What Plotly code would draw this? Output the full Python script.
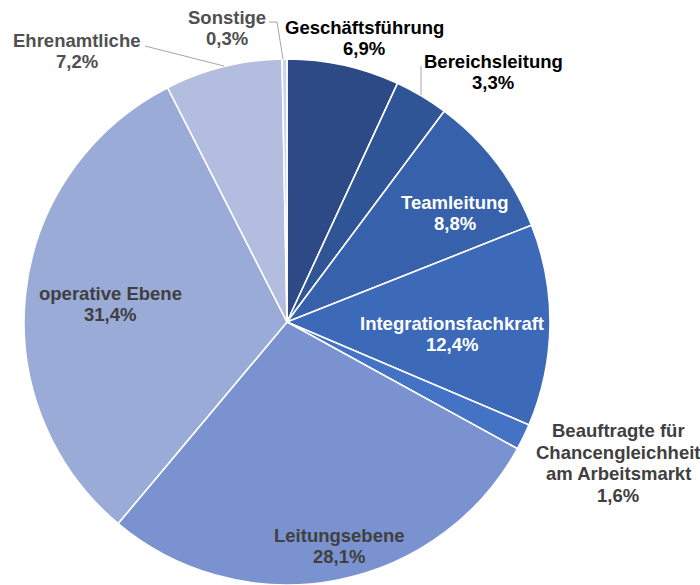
import plotly.graph_objects as go

# Staff groups and their shares (percent)
categories = [
    "Geschäftsführung",
    "Bereichsleitung",
    "Teamleitung",
    "Integrationsfachkraft",
    "Beauftragte für|Chancengleichheit|am Arbeitsmarkt",
    "Leitungsebene",
    "operative Ebene",
    "Ehrenamtliche",
    "Sonstige",
]
shares = [6.9, 3.3, 8.8, 12.4, 1.6, 28.1, 31.4, 7.2, 0.3]

slice_colors = [
    "#2D4A86", "#2F5597", "#3762AB", "#3D69B9", "#4472C4",
    "#7A92CF", "#9AABD7", "#B3BDDF", "#CDD3EA",
]
label_colors = [
    "#000000", "#000000", "#FFFFFF", "#FFFFFF", "#404040",
    "#404040", "#404040", "#505050", "#505050",
]
# label block centres in pixels (x, y) for a 700 x 585 canvas
label_pos = [
    (364, 38), (493, 72), (455, 213), (452, 334), (618, 463),
    (339, 546), (110, 304), (77, 51), (227, 28),
]

W, H = 700, 585
cx, cy, r = 287, 322, 263
LINE_GAP = 21.5
FONT_SIZE = 18.5

fig = go.Figure(go.Pie(
    labels=[c.replace("|", " ") for c in categories],
    values=shares,
    sort=False,
    direction="clockwise",
    rotation=0,
    marker=dict(colors=slice_colors, line=dict(color="white", width=1.6)),
    textinfo="none",
    hoverinfo="label+percent",
    domain=dict(x=[(cx - r) / W, (cx + r) / W], y=[1 - (cy + r) / H, 1 - (cy - r) / H]),
    showlegend=False,
))

def fmt(v):
    return f"{v:.1f}".replace(".", ",") + "%"

for name, v, col, (px, py) in zip(categories, shares, label_colors, label_pos):
    lines = name.split("|") + [fmt(v)]
    n = len(lines)
    for i, line in enumerate(lines):
        ly = py + (i - (n - 1) / 2) * LINE_GAP
        fig.add_annotation(
            x=px / W, y=1 - ly / H, xref="paper", yref="paper",
            text=f"<b>{line}</b>",
            showarrow=False, xanchor="center", yanchor="middle",
            font=dict(family="Liberation Sans, Arial, sans-serif", size=FONT_SIZE, color=col),
        )

# leader lines for labels placed outside the pie
leaders = [
    [(269, 22), (277, 22), (283, 59)],
    [(421, 66), (421, 95)],
    [(145, 46), (224, 66)],
]
for pts in leaders:
    path = "M " + " L ".join(f"{x / W},{1 - y / H}" for x, y in pts)
    fig.add_shape(type="path", path=path, xref="paper", yref="paper",
                  line=dict(color="#A6A6A6", width=1))

fig.update_layout(
    width=W, height=H,
    margin=dict(l=0, r=0, t=0, b=0),
    paper_bgcolor="white", plot_bgcolor="white",
)

fig.write_html("out.html")
